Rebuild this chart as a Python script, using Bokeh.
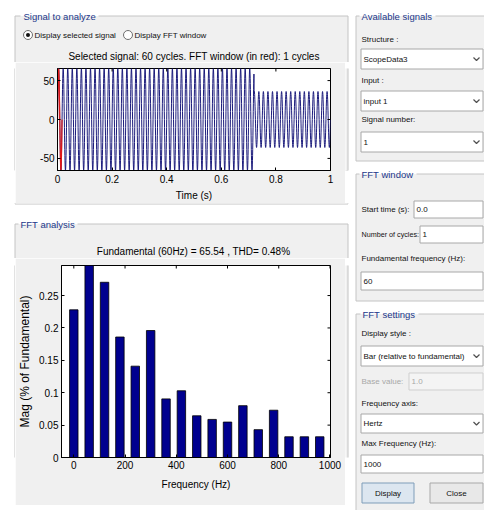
import numpy as np
from bokeh.plotting import figure
from bokeh.layouts import row, column
from bokeh.models import Range1d, FixedTicker, ColumnDataSource
from bokeh.core.properties import value
from bokeh.embed import file_html
from bokeh.resources import INLINE

# ---------------- values ----------------
signal_cycles = 60
fundamental_hz = 60
fft_window_cycles = 1
signal_time_range = [0.0, 1.0]
segment_start_s = [0.0, 0.72]
segment_end_s = [0.72, 1.0]
segment_peak = [65.54, 36.0]
signal_y_limit = 65.54
time_ticks = [0, 0.2, 0.4, 0.6, 0.8, 1]
time_tick_labels = ["0", "0.2", "0.4", "0.6", "0.8", "1"]
signal_ticks = [-50, 0, 50]
signal_tick_labels = ["-50", "0", "50"]

harmonic_hz = [0, 60, 120, 180, 240, 300, 360, 420, 480, 540, 600, 660, 720, 780, 840, 900, 960]
harmonic_mag_pct = [0.228, 100.0, 0.2705, 0.186, 0.141, 0.196, 0.0905, 0.103, 0.0644,
                    0.0588, 0.0547, 0.080, 0.043, 0.073, 0.032, 0.032, 0.032]
fundamental_mag = 65.54
thd_pct = 0.48
freq_range = [-48, 1002]
mag_range = [0, 0.2964]
freq_ticks = [0, 200, 400, 600, 800, 1000]
freq_tick_labels = ["0", "200", "400", "600", "800", "1000"]
mag_ticks = [0, 0.05, 0.1, 0.15, 0.2, 0.25]
mag_tick_labels = ["0", "0.05", "0.1", "0.15", "0.2", "0.25"]

# ---------------- styles ----------------
FONT = "Liberation Sans"
OUTSIDE = "#ffffff"
PANEL = "#f0f0f0"
EDGE = "#c4c4c4"
NAVY = "#22378a"
SIG_BLUE = "#1c1c7c"
BAR_FILL = "#00008f"
CHART_FS = "10px"
GROUP_FS = "9.5px"
GUI_FS = "8px"
TXT = "#111111"

# ---------------- GUI layout (page pixel coordinates) ----------------
# groups: x0, y0, x1, y1, gap_start, gap_end
groups = [
    (14.5, 15.5, 347.5, 203.5, 20, 98),
    (14.5, 223.5, 347.5, 508.5, 18, 77),
    (355.5, 15.5, 495, 160.5, 359, 435),
    (355.5, 173.5, 495, 300.5, 359, 416),
    (355.5, 313.5, 495, 512, 360, 418),
]
# boxes: x0, y0, x1, y1, fill, line
boxes = [
    (360.5, 48.5, 482.5, 68.5, "white", "#a8a8a8"),
    (360.5, 90.5, 482.5, 110.5, "white", "#a8a8a8"),
    (360.5, 131.5, 482.5, 151.5, "white", "#a8a8a8"),
    (413.5, 200.5, 482.5, 217.5, "white", "#a8a8a8"),
    (419.5, 225.5, 482.5, 242.5, "white", "#a8a8a8"),
    (360.5, 271.5, 482.5, 289.5, "white", "#a8a8a8"),
    (360.5, 345.5, 482.5, 365.5, "white", "#a8a8a8"),
    (408.5, 372.5, 482.5, 389.5, "#f4f4f4", "#cfcfcf"),
    (360.5, 413.5, 482.5, 432.5, "white", "#a8a8a8"),
    (360.5, 454.5, 482.5, 472.5, "white", "#a8a8a8"),
    (361.5, 482.5, 413.5, 502.5, "#dce6f0", "#7f9db9"),
    (429.5, 482.5, 482.5, 502.5, "#e8e8e8", "#a8a8a8"),
]
chevron_y = [58.5, 100.5, 141.5, 355.5, 423]

title1 = f"Selected signal: {signal_cycles} cycles. FFT window (in red): {fft_window_cycles} cycles"
title2 = f"Fundamental ({fundamental_hz}Hz) = {fundamental_mag:.2f} , THD= {thd_pct:.2f}%"

# texts: x, y, text, size, color, align
texts = [
    (23, 15.5, "Signal to analyze", GROUP_FS, NAVY, "left"),
    (34, 34.5, "Display selected signal", GUI_FS, TXT, "left"),
    (134, 34.5, "Display FFT window", GUI_FS, TXT, "left"),
    (193.5, 55.5, title1, CHART_FS, "#000000", "center"),
    (20, 223.5, "FFT analysis", GROUP_FS, NAVY, "left"),
    (193, 251, title2, CHART_FS, "#000000", "center"),
    (361, 15.5, "Available signals", GROUP_FS, NAVY, "left"),
    (361, 39, "Structure :", GUI_FS, TXT, "left"),
    (363, 58.5, "ScopeData3", GUI_FS, TXT, "left"),
    (361, 80, "Input :", GUI_FS, TXT, "left"),
    (363, 100.5, "input 1", GUI_FS, TXT, "left"),
    (361, 119, "Signal number:", GUI_FS, TXT, "left"),
    (363, 141.5, "1", GUI_FS, TXT, "left"),
    (361, 173.5, "FFT window", GROUP_FS, NAVY, "left"),
    (361, 209, "Start time (s):", GUI_FS, TXT, "left"),
    (416, 209, "0.0", GUI_FS, TXT, "left"),
    (361, 234, "Number of cycles:", "7.2px", TXT, "left"),
    (422, 234, "1", GUI_FS, TXT, "left"),
    (361, 258, "Fundamental frequency (Hz):", GUI_FS, TXT, "left"),
    (363, 280.5, "60", GUI_FS, TXT, "left"),
    (362, 313.5, "FFT settings", GROUP_FS, NAVY, "left"),
    (361, 333, "Display style :", GUI_FS, TXT, "left"),
    (363, 355.5, "Bar (relative to fundamental)", GUI_FS, TXT, "left"),
    (361, 381, "Base value:", GUI_FS, "#a8a8a8", "left"),
    (411, 381, "1.0", GUI_FS, "#a8a8a8", "left"),
    (361, 403, "Frequency axis:", GUI_FS, TXT, "left"),
    (363, 423, "Hertz", GUI_FS, TXT, "left"),
    (361, 443, "Max Frequency (Hz):", GUI_FS, TXT, "left"),
    (363, 463.5, "1000", GUI_FS, TXT, "left"),
    (387.5, 492.5, "Display", GUI_FS, TXT, "center"),
    (456, 492.5, "Close", GUI_FS, TXT, "center"),
]


def draw_gui(p, x0c, x1c, y0c, y1c):
    p.quad(left=[g[0] for g in groups], right=[g[2] for g in groups],
           top=[g[1] for g in groups], bottom=[g[3] for g in groups],
           fill_color=PANEL, line_color=None)
    sx0, sy0, sx1, sy1 = [], [], [], []
    for (x0, y0, x1, y1, g0, g1) in groups:
        for a in [(x0, y0, x0, y1), (x1, y0, x1, y1), (x0, y1, x1, y1),
                  (x0, y0, g0, y0), (g1, y0, x1, y0)]:
            sx0.append(a[0]); sy0.append(a[1]); sx1.append(a[2]); sy1.append(a[3])
    p.segment(x0=sx0, y0=sy0, x1=sx1, y1=sy1, line_color=EDGE, line_width=1)
    inb = [b for b in boxes if b[0] < x1c and b[2] > x0c and b[1] < y1c and b[3] > y0c]
    if inb:
        p.quad(left=[b[0] for b in inb], right=[b[2] for b in inb],
               top=[b[1] for b in inb], bottom=[b[3] for b in inb],
               fill_color=[b[4] for b in inb], line_color=[b[5] for b in inb], line_width=1)
    if x0c < 140 and y0c < 40:
        p.scatter(x=[27.5, 127.5], y=[34.5, 34.5], size=9, fill_color="white",
                  line_color="#6f6f6f", line_width=1)
        p.scatter(x=[27.5], y=[34.5], size=4, fill_color=TXT, line_color=None)
    if x1c > 470:
        p.multi_line(xs=[[473, 476, 479] for _ in chevron_y],
                     ys=[[y - 1.5, y + 1.5, y - 1.5] for y in chevron_y],
                     line_color="#505050", line_width=1.2)
    sel = [t for t in texts if x0c <= t[0] < x1c and y0c <= t[1] < y1c]
    if sel:
        src = ColumnDataSource(dict(
            x=[t[0] for t in sel], y=[t[1] for t in sel], txt=[t[2] for t in sel],
            tsize=[t[3] for t in sel], tcolor=[t[4] for t in sel], talign=[t[5] for t in sel]))
        p.text(x="x", y="y", text="txt", source=src, text_font=value(FONT),
               text_font_size="tsize", text_color="tcolor", text_align="talign",
               text_baseline="middle")


def canvas(x0, x1, y0, y1):
    p = figure(width=x1 - x0, height=y1 - y0, x_range=Range1d(x0, x1), y_range=Range1d(y1, y0),
               x_axis_location=None, y_axis_location=None, toolbar_location=None,
               output_backend="svg", min_border=0, min_border_left=0, min_border_right=0,
               min_border_top=0, min_border_bottom=0, background_fill_color=OUTSIDE,
               border_fill_color=OUTSIDE, outline_line_color=None)
    p.grid.visible = False
    draw_gui(p, x0, x1, y0, y1)
    return p


def matlab_axes(p, xt, xl, yt, yl, x_end, y_end, xlabel_standoff, tick_standoff):
    xa, ya = p.below[0], p.left[0]
    for ax, ticks, labels in ((xa, xt, xl), (ya, yt, yl)):
        ax.ticker = FixedTicker(ticks=ticks, minor_ticks=[])
        ax.major_label_overrides = dict(zip(ticks, labels))
        ax.major_tick_in = 3
        ax.major_tick_out = 0
        ax.minor_tick_in = 0
        ax.minor_tick_out = 0
        ax.axis_line_color = "black"
        ax.major_tick_line_color = "black"
        ax.major_label_text_font = FONT
        ax.major_label_text_font_size = CHART_FS
        ax.major_label_text_color = "black"
        ax.major_label_standoff = 3
        ax.axis_label_text_font = FONT
        ax.axis_label_text_font_size = CHART_FS
        ax.axis_label_text_font_style = "normal"
        ax.axis_label_text_color = "black"
    xa.major_label_standoff = tick_standoff
    xa.axis_label_standoff = xlabel_standoff
    # MATLAB box ticks on top and right edges (half of each dash falls outside the frame)
    p.scatter(x=xt, y=[y_end] * len(xt), marker="dash", angle=np.pi / 2, size=6,
              line_color="black", line_width=1)
    p.scatter(x=[x_end] * len(yt), y=yt, marker="dash", size=6,
              line_color="black", line_width=1)
    p.grid.visible = False
    return xa, ya


# ---------------- signal chart ----------------
n_per_cycle = 40
t = np.linspace(signal_time_range[0], signal_time_range[1], signal_cycles * n_per_cycle + 1)
amp = np.zeros_like(t)
for s0, s1, a in zip(segment_start_s, segment_end_s, segment_peak):
    amp[(t >= s0) & (t <= s1)] = a
y = amp * np.sin(2 * np.pi * fundamental_hz * t)
win = t <= fft_window_cycles / fundamental_hz

sig = figure(width=330, height=141, x_range=Range1d(*signal_time_range),
             y_range=Range1d(-signal_y_limit, signal_y_limit), toolbar_location=None,
             output_backend="svg", min_border_left=42, min_border_right=15, min_border_top=6,
             min_border_bottom=32, background_fill_color="white", border_fill_color=PANEL,
             outline_line_color="black")
sig.line(t, y, line_color=SIG_BLUE, line_width=1)
sig.line(t[win], y[win], line_color="#e01818", line_width=1.2)
sxa, sya = matlab_axes(sig, time_ticks, time_tick_labels, signal_ticks, signal_tick_labels,
                       signal_time_range[1], signal_y_limit, 4, 4)
sxa.axis_label = "Time (s)"

# ---------------- FFT chart ----------------
fft = figure(width=330, height=247, x_range=Range1d(*freq_range), y_range=Range1d(*mag_range),
             toolbar_location=None, output_backend="svg", min_border_left=41,
             min_border_right=15, min_border_top=7, min_border_bottom=48,
             background_fill_color="white", border_fill_color=PANEL, outline_line_color="black")
fft.vbar(x=harmonic_hz, top=harmonic_mag_pct, bottom=0, width=33,
         fill_color=BAR_FILL, line_color="black", line_width=0.8)
fxa, fya = matlab_axes(fft, freq_ticks, freq_tick_labels, mag_ticks, mag_tick_labels,
                       freq_range[1], mag_range[1], 7, 3)
fxa.axis_label = "Frequency (Hz)"
fya.axis_label = "Mag (% of Fundamental)"
fya.axis_label_text_font_size = "12px"
fya.axis_label_standoff = 4

# ---------------- assemble (page has no margin: figure pixels = reference pixels) ----------------
left_col = column(
    canvas(0, 351, 0, 62),
    row(canvas(0, 15, 62, 203), sig, canvas(345, 351, 62, 203)),
    canvas(0, 351, 203, 258),
    row(canvas(0, 15, 258, 505), fft, canvas(345, 351, 258, 505)),
    canvas(0, 351, 505, 510),
)
layout = row(left_col, canvas(351, 484, 0, 510))

open("out.html", "w").write(file_html(layout, INLINE))
